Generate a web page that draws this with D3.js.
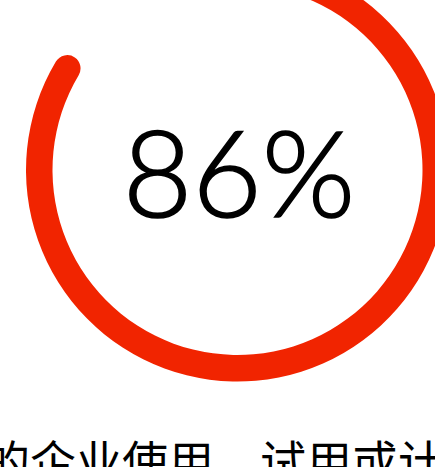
<!DOCTYPE html>
<html>
<head>
<meta charset="utf-8">
<script src="https://cdn.jsdelivr.net/npm/d3@7/dist/d3.min.js"></script>
<style>
html,body{margin:0;padding:0;background:#fff;overflow:hidden;}
svg{display:block;}
</style>
</head>
<body>
<svg id="chart" width="435" height="467"></svg>
<script>
const values = [86];
const maxValues = [100];
const valueLabels = ["86%"];
const captions = ["的企业使用，试用或计"];

const svg = d3.select("#chart");
const cx = 237.5, cy = 170;
const inner = 185, outer = 211.5;
const startOffset = -0.086;

const angle = d3.scaleLinear().domain([0, maxValues[0]]).range([startOffset, startOffset + 2 * Math.PI]);

const arc = d3.arc()
  .innerRadius(inner)
  .outerRadius(outer)
  .cornerRadius((outer - inner) / 2);

const g = svg.append("g").attr("transform", `translate(${cx},${cy})`);

g.selectAll("path.bar")
  .data(values)
  .join("path")
  .attr("class", "bar")
  .attr("fill", "#f12400")
  .attr("d", d => arc({startAngle: angle(0), endAngle: angle(d)}));

g.selectAll("text.value")
  .data(valueLabels)
  .join("text")
  .attr("class", "value")
  .attr("x", 1.5)
  .attr("y", 47)
  .attr("text-anchor", "middle")
  .attr("font-family", "Lato, 'Open Sans', sans-serif")
  .attr("font-weight", 300)
  .attr("font-size", 120)
  .attr("fill", "#000")
  .attr("stroke", "#000")
  .attr("stroke-width", 1.6)
  .text(d => d);

svg.selectAll("text.caption")
  .data(captions)
  .join("text")
  .attr("class", "caption")
  .attr("x", -16)
  .attr("y", 479)
  .attr("font-family", "'Noto Sans CJK SC', sans-serif")
  .attr("font-weight", 400)
  .attr("font-size", 46)
  .attr("fill", "#000")
  .text(d => d);
</script>
</body>
</html>
